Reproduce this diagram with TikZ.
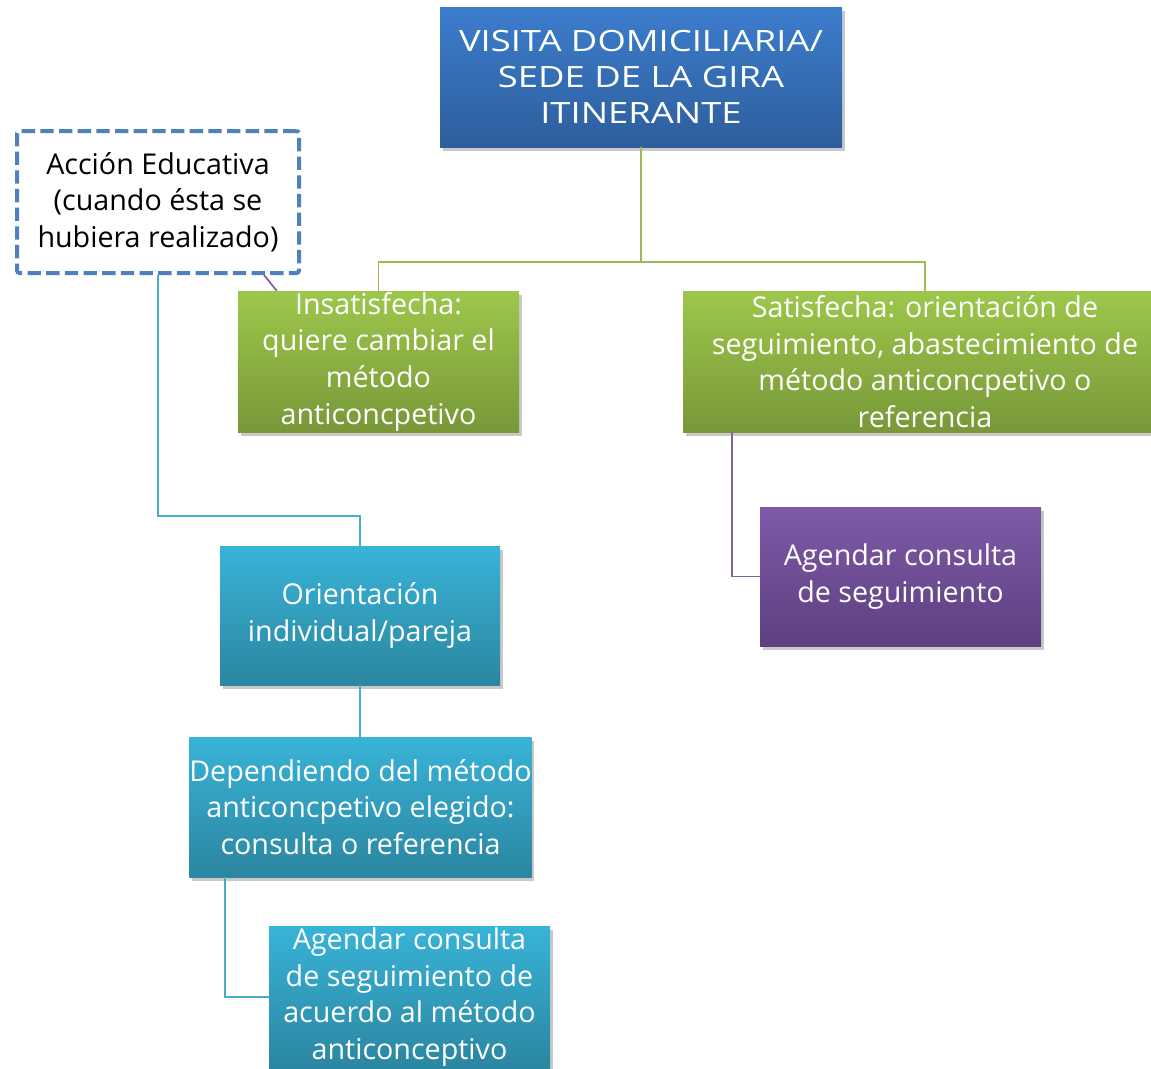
\documentclass[tikz,border=0pt]{standalone}
\usepackage{fontspec}
\setmainfont{Open Sans}
\newfontfamily\widefont[FakeStretch=1.24]{Open Sans}
\usetikzlibrary{shadows,calc}
\definecolor{gline}{HTML}{9BBB59}
\definecolor{cline}{HTML}{4BACC6}
\definecolor{pline}{HTML}{8064A2}
\definecolor{dashblue}{HTML}{4F81BD}
\definecolor{blue1}{HTML}{3C7DCD}
\definecolor{blue2}{HTML}{2E5E9C}
\definecolor{green1}{HTML}{9DC74B}
\definecolor{green2}{HTML}{789839}
\definecolor{purple1}{HTML}{7D5AA8}
\definecolor{purple2}{HTML}{5E4080}
\definecolor{cyan1}{HTML}{38B3D8}
\definecolor{cyan2}{HTML}{2B86A0}
\begin{document}
\begin{tikzpicture}[x=0.75pt,y=-0.75pt,
  txt/.style={font=\fontsize{21.5}{27.5}\selectfont, align=center, inner sep=0pt, text=white},
  card/.style={txt, rectangle, draw=none,
    drop shadow={shadow xshift=2pt, shadow yshift=-3pt, opacity=0.35, fill=black!60}},
  bluecard/.style={card, top color=blue1, bottom color=blue2, font=\widefont\fontsize{22}{27}\selectfont},
  greencard/.style={card, top color=green1, bottom color=green2},
  purplecard/.style={card, top color=purple1, bottom color=purple2},
  cyancard/.style={card, top color=cyan1, bottom color=cyan2},
  dashcard/.style={txt, text=black, draw=dashblue, line width=3pt, dash pattern=on 10pt off 4pt, rounded corners=2pt, fill=white},
  conn/.style={line width=1.3pt}
]
\clip (0,0) rectangle (1151,1068);
\fill[white] (0,0) rectangle (1151,1068);

\coordinate (gy) at (0,262);
\coordinate (cy) at (0,516);
\coordinate (dx) at (225,0);
\coordinate (px) at (732,0);

\node[bluecard, minimum width=301.5pt, minimum height=105pt] (top) at (641,77)
  {VISITA DOMICILIARIA/\\SEDE DE LA GIRA\\ITINERANTE};
\node[dashcard, minimum width=211.5pt, minimum height=106.5pt] (accion) at (158,202)
  {Acción Educativa\\(cuando ésta se\\hubiera realizado)};
\node[greencard, minimum width=210.75pt, minimum height=105.75pt] (insat) at (378.5,361.5)
  {Insatisfecha:\\quiere cambiar el\\método\\anticoncpetivo};
\node[greencard, minimum width=363pt, minimum height=105.75pt] (satis) at (925,361.5)
  {Satisfecha: orientación de\\seguimiento, abastecimiento de\\método anticoncpetivo o\\referencia};
\node[purplecard, minimum width=210.75pt, minimum height=104.25pt] (agendP) at (900.5,576.5)
  {Agendar consulta\\de seguimiento};
\node[cyancard, minimum width=210pt, minimum height=104.25pt] (orient) at (360,615.5)
  {Orientación\\individual/pareja};
\node[cyancard, minimum width=254.25pt, minimum height=105pt] (depend) at (360.5,807)
  {Dependiendo del método\\anticoncpetivo elegido:\\consulta o referencia};
\node[cyancard, minimum width=210.75pt, minimum height=106.5pt] (agendB) at (409.5,997)
  {Agendar consulta\\de seguimiento de\\acuerdo al método\\anticonceptivo};

\draw[conn, gline] (top.south) -- (top.south |- gy) -| (insat.north);
\draw[conn, gline] (top.south |- gy) -| (satis.north);
\draw[conn, pline] ($(accion.south east)+(-37,0)$) -- ($(insat.north west)+(39,0)$);
\draw[conn, cline] (accion.south) -- (accion.south |- cy) -| (orient.north);
\draw[conn, cline] (orient.south) -- (orient.south |- depend.north);
\draw[conn, cline] (depend.south -| dx) |- (agendB.west);
\draw[conn, pline] (satis.south -| px) |- (agendP.west);
\end{tikzpicture}
\end{document}
